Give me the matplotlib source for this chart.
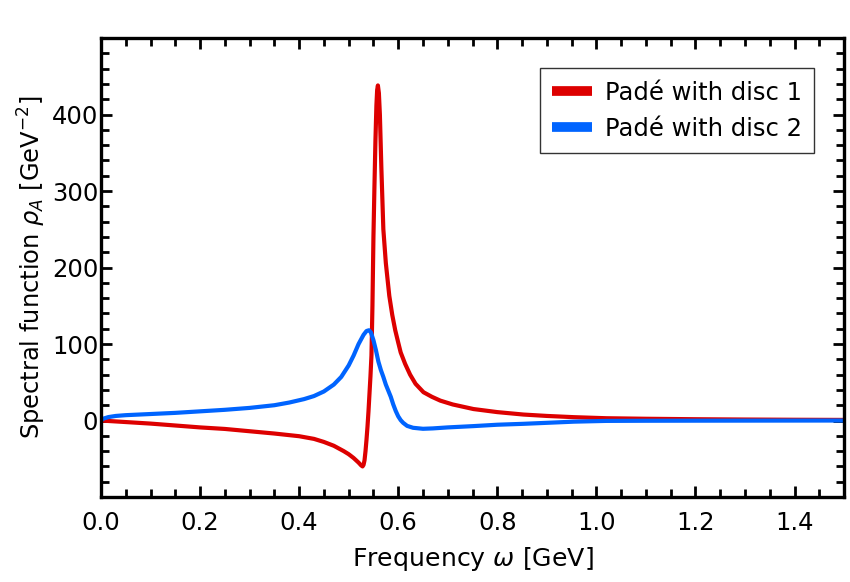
import matplotlib
matplotlib.use("Agg")
import matplotlib.pyplot as plt
from matplotlib.ticker import MultipleLocator, FixedLocator

# ---- data ----
red_x = [0.0, 0.05, 0.1, 0.15, 0.2, 0.25, 0.3, 0.35, 0.4, 0.43, 0.45, 0.47,
         0.49, 0.5, 0.51, 0.52, 0.525, 0.528, 0.530, 0.532, 0.534, 0.536,
         0.538, 0.540, 0.542, 0.544, 0.546, 0.548, 0.550, 0.552, 0.554, 0.556,
         0.5575, 0.559, 0.561, 0.563, 0.566, 0.570, 0.575, 0.582, 0.588,
         0.594, 0.600, 0.605, 0.614, 0.624, 0.635, 0.651, 0.668, 0.685, 0.71,
         0.752, 0.8, 0.853, 0.9, 0.954, 1.02, 1.1, 1.2, 1.3, 1.4, 1.5]
red_y = [0.0, -2, -4, -6.5, -9, -11, -14, -17, -20.5, -24, -28, -33,
         -40, -44, -49, -55, -58.5, -60, -58, -52, -40, -25,
         -8, 12, 35, 58, 85, 150, 240, 305, 365, 412,
         432, 438, 428, 400, 330, 250, 206, 163, 138,
         118, 102, 89, 74, 60, 48, 37, 31, 26, 21,
         15, 11, 7.8, 6, 4.4, 3, 2.3, 1.7, 1.3, 1.0, 0.8]

blue_x = [0.0, 0.005, 0.015, 0.03, 0.05, 0.1, 0.15, 0.2, 0.25, 0.3, 0.35,
          0.38, 0.41, 0.43, 0.45, 0.47, 0.485, 0.5, 0.51, 0.52, 0.53, 0.536,
          0.541, 0.545, 0.55, 0.555, 0.56, 0.565, 0.57, 0.575, 0.58, 0.585,
          0.59, 0.595, 0.6, 0.605, 0.61, 0.618, 0.63, 0.65, 0.67, 0.7, 0.752,
          0.8, 0.853, 0.9, 0.954, 1.02, 1.1, 1.2, 1.35, 1.5]
blue_y = [0.0, 2.5, 4.5, 6, 7, 8.5, 10, 12, 14, 16.5, 20,
          23.5, 28, 32, 38, 47, 57, 72, 85, 100, 112, 117,
          118, 115, 105, 92, 77, 66, 57, 47, 39, 31,
          21, 12.5, 5.5, 0.5, -3, -7, -9.5, -10.8, -10.3, -9, -7.3,
          -5.5, -4.3, -3, -1.5, -0.5, -0.3, -0.2, -0.1, 0.0]

labels = ["Padé with disc 1", "Padé with disc 2"]
colors = ["#dd0000", "#0064ff"]
y_ticks = [0, 100, 200, 300, 400]

plt.rcParams["font.family"] = ["DejaVu Sans"]
plt.rcParams["mathtext.fontset"] = "dejavusans"

fig = plt.figure(figsize=(8.5, 5.82), dpi=100)
ax = fig.add_axes([0.1188, 0.146, 0.8742, 0.7887])

ax.plot(red_x, red_y, color=colors[0], lw=3.0, label=labels[0],
        solid_joinstyle="round", solid_capstyle="round")
ax.plot(blue_x, blue_y, color=colors[1], lw=3.0, label=labels[1],
        solid_joinstyle="round", solid_capstyle="round")

ax.set_xlim(0, 1.5)
ax.set_ylim(-100, 500)
ax.xaxis.set_major_locator(MultipleLocator(0.2))
ax.xaxis.set_minor_locator(MultipleLocator(0.05))
ax.yaxis.set_major_locator(FixedLocator(y_ticks))
ax.yaxis.set_minor_locator(MultipleLocator(20))

fs = 17.5
ax.tick_params(which="both", direction="in", top=True, right=True, width=2.0, labelsize=fs)
ax.tick_params(which="major", length=8)
ax.tick_params(which="minor", length=5.5)
ax.tick_params(axis="x", which="major", pad=10)
ax.tick_params(axis="y", which="major", pad=2)
for s in ax.spines.values():
    s.set_linewidth(2.4)

ax.set_xlabel(r"Frequency $\omega$ [GeV]", fontsize=18.2, labelpad=7.5)
ax.set_ylabel(r"Spectral function $\rho_A$ [GeV$^{-2}$]", fontsize=17.4, labelpad=3)

leg = ax.legend(loc="upper right", fontsize=fs, frameon=True, fancybox=False,
                edgecolor="black", handlelength=1.65, borderaxespad=1.25,
                handletextpad=0.5, labelspacing=0.5, borderpad=0.5)
leg.get_frame().set_linewidth(1.0)
for h in leg.get_lines():
    h.set_linewidth(7)
    h.set_solid_capstyle("butt")

fig.savefig("out.png", dpi=100)
